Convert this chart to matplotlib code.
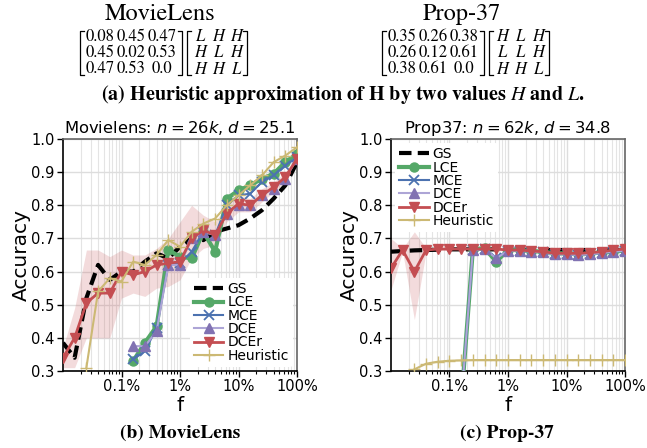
import numpy as np
import matplotlib
matplotlib.use('Agg')
import matplotlib.pyplot as plt
from matplotlib.ticker import FixedLocator, LogLocator, NullFormatter, FixedFormatter
from matplotlib.lines import Line2D

nan = np.nan

# fraction of labeled nodes (5 points per decade)
f = [0.0001, 0.000158, 0.000251, 0.000398, 0.000631,
     0.001, 0.00158, 0.00251, 0.00398, 0.00631,
     0.01, 0.0158, 0.0251, 0.0398, 0.0631,
     0.1, 0.158, 0.251, 0.398, 0.631, 1.0]

# MovieLens accuracies
gs_ml = [0.385, 0.34, 0.52, 0.62, 0.575, 0.60, 0.60, 0.63, 0.655, 0.64, 0.675,
         0.70, 0.695, 0.72, 0.73, 0.74, 0.76, 0.785, 0.82, 0.86, 0.93]
lce_ml = [nan, nan, nan, nan, nan, nan, 0.33, 0.385, 0.435, 0.665, 0.645,
          0.64, 0.72, 0.66, 0.82, 0.845, 0.86, 0.88, 0.895, 0.93, 0.955]
mce_ml = [nan, nan, nan, nan, nan, nan, 0.335, 0.36, 0.43, 0.62, 0.625,
          0.66, 0.72, 0.71, 0.80, 0.83, 0.835, 0.87, 0.89, 0.92, 0.945]
dce_ml = [nan, nan, nan, nan, nan, nan, 0.375, 0.375, 0.42, 0.62, 0.62,
          0.70, 0.72, 0.71, 0.775, 0.80, 0.80, 0.83, 0.85, 0.88, 0.94]
dcer_ml = [0.34, 0.40, 0.505, 0.535, 0.535, 0.60, 0.59, 0.60, 0.62, 0.625, 0.63,
           0.70, 0.725, 0.71, 0.775, 0.805, 0.80, 0.83, 0.855, 0.885, 0.94]
dcer_ml_lo = [0.31, 0.31, 0.40, 0.40, 0.40, 0.52, 0.535, 0.525, 0.55, 0.555, 0.575,
              0.64, 0.67, 0.68, 0.75, 0.78, 0.78, 0.81, 0.84, 0.87, 0.93]
dcer_ml_hi = [0.37, 0.49, 0.665, 0.665, 0.645, 0.665, 0.65, 0.65, 0.67, 0.70, 0.75,
              0.80, 0.77, 0.75, 0.80, 0.83, 0.82, 0.85, 0.87, 0.90, 0.95]
heur_ml = [nan, nan, 0.31, 0.54, 0.58, 0.57, 0.63, 0.62, 0.65, 0.695, 0.675,
           0.72, 0.745, 0.76, 0.80, 0.83, 0.86, 0.89, 0.93, 0.95, 0.975]

# Prop-37 accuracies
gs_p = [0.66, 0.662, 0.664, 0.665, 0.666, 0.667, 0.667, 0.667, 0.667, 0.667, 0.666,
        0.666, 0.665, 0.665, 0.665, 0.665, 0.665, 0.665, 0.665, 0.665, 0.665]
lce_p = [0.2, 0.2, 0.2, 0.2, 0.2, 0.2, 0.2, 0.668, 0.67, 0.63, 0.665,
         0.665, 0.662, 0.66, 0.655, 0.655, 0.652, 0.655, 0.658, 0.66, 0.665]
mce_p = [0.2, 0.2, 0.2, 0.2, 0.2, 0.2, 0.2, 0.665, 0.668, 0.64, 0.663,
         0.663, 0.66, 0.658, 0.653, 0.653, 0.65, 0.653, 0.656, 0.66, 0.663]
dce_p = [0.2, 0.2, 0.2, 0.2, 0.2, 0.2, 0.2, 0.665, 0.668, 0.64, 0.663,
         0.663, 0.66, 0.658, 0.652, 0.652, 0.65, 0.652, 0.656, 0.66, 0.663]
dcer_p = [0.61, 0.665, 0.60, 0.665, 0.668, 0.668, 0.668, 0.668, 0.668, 0.668, 0.665,
          0.665, 0.662, 0.66, 0.655, 0.655, 0.655, 0.657, 0.66, 0.665, 0.668]
dcer_p_lo = [0.545, 0.66, 0.455, 0.66, 0.664, 0.664, 0.664, 0.664, 0.664, 0.664, 0.661,
             0.661, 0.658, 0.656, 0.651, 0.651, 0.651, 0.653, 0.656, 0.661, 0.664]
dcer_p_hi = [0.70, 0.67, 0.72, 0.67, 0.672, 0.672, 0.672, 0.672, 0.672, 0.672, 0.669,
             0.669, 0.666, 0.664, 0.659, 0.659, 0.659, 0.661, 0.664, 0.669, 0.672]
heur_p = [nan, nan, 0.305, 0.322, 0.328, 0.331, 0.332, 0.333, 0.333, 0.333, 0.333,
          0.333, 0.333, 0.333, 0.333, 0.333, 0.333, 0.333, 0.333, 0.333, 0.333]

xtick_pos = [0.001, 0.01, 0.1, 1.0]
xtick_lab = ['0.1%', '1%', '10%', '100%']

W, H = 647, 448
plt.rcParams['mathtext.fontset'] = 'stix'
fig = plt.figure(figsize=(W / 100, H / 100), dpi=100)


def fx(x):
    return x / W


def fy(y):
    return 1 - y / H


def draw_panel(ax, title, gs, lce, mce, dce, dcer, lo, hi, heur, legend_loc):
    ax.fill_between(f, lo, hi, color='#C44E52', alpha=0.2, lw=0)
    ax.plot(f, gs, color='black', lw=3, ls=(0, (3, 1.5)), label='GS', zorder=3)
    ax.plot(f, lce, color='#55A868', lw=3, marker='o', ms=6.5, label='LCE', zorder=4)
    ax.plot(f, mce, color='#4C72B0', lw=1.5, marker='x', ms=6.5, mew=1.3, label='MCE', zorder=5)
    ax.plot(f, dce, color='#ADA5D6', lw=1.5, marker='^', ms=6.5, mfc='#8172B2', mec='#8172B2',
            label='DCE', zorder=5)
    ax.plot(f, dcer, color='#C44E52', lw=2, marker='v', ms=7, label='DCEr', zorder=6)
    ax.plot(f, heur, color='#CCB974', lw=1.5, marker='+', ms=8, mew=1, label='Heuristic', zorder=7)

    ax.set_xscale('log')
    ax.set_xlim(1e-4, 1.0)
    ax.set_ylim(0.3, 1.0)
    ax.xaxis.set_major_locator(FixedLocator(xtick_pos))
    ax.xaxis.set_major_formatter(FixedFormatter(xtick_lab))
    ax.xaxis.set_minor_locator(LogLocator(base=10, subs=np.arange(2, 10)))
    ax.xaxis.set_minor_formatter(NullFormatter())
    ax.set_yticks([0.3, 0.4, 0.5, 0.6, 0.7, 0.8, 0.9, 1.0])
    ax.tick_params(axis='both', which='major', labelsize=10.5, length=4, width=1, pad=2)
    ax.tick_params(axis='x', which='minor', length=2.5, width=0.8)
    ax.grid(True, which='major', color='#dddddd', lw=1)
    ax.grid(True, which='minor', axis='x', color='#e4e4e4', lw=0.8)
    ax.set_axisbelow(True)
    for s in ['left', 'bottom']:
        ax.spines[s].set_color('black')
        ax.spines[s].set_linewidth(1.2)
    for s in ['top', 'right']:
        ax.spines[s].set_color('#666666')
        ax.spines[s].set_linewidth(1.2)
    ax.set_title(title, fontsize=11.8, pad=4, family='DejaVu Sans', math_fontfamily='dejavusans')
    ax.set_ylabel('Accuracy', fontsize=14.5, labelpad=0.5)
    ax.set_xlabel('f', fontsize=14.5, labelpad=1)
    ax.legend(loc=legend_loc, fontsize=10, frameon=True, facecolor='white', edgecolor='none',
              framealpha=1, handlelength=2.1, labelspacing=-0.05, borderpad=0.3,
              borderaxespad=0.3, handletextpad=0.3)


ax1 = fig.add_axes([fx(63), fy(371), fx(234), 232 / H])
draw_panel(ax1, 'Movielens: $n = 26k$, $d = 25.1$',
           gs_ml, lce_ml, mce_ml, dce_ml, dcer_ml, dcer_ml_lo, dcer_ml_hi, heur_ml, 'lower right')
ax2 = fig.add_axes([fx(391), fy(371), fx(234), 232 / H])
draw_panel(ax2, 'Prop37: $n = 62k$, $d = 34.8$',
           gs_p, lce_p, mce_p, dce_p, dcer_p, dcer_p_lo, dcer_p_hi, heur_p, 'upper left')

# ---- top part (a): heuristic matrices ----
ml_num = [['0.08', '0.45', '0.47'], ['0.45', '0.02', '0.53'], ['0.47', '0.53', '0.0']]
ml_let = [['L', 'H', 'H'], ['H', 'L', 'H'], ['H', 'H', 'L']]
p_num = [['0.35', '0.26', '0.38'], ['0.26', '0.12', '0.61'], ['0.38', '0.61', '0.0']]
p_let = [['H', 'L', 'H'], ['L', 'L', 'H'], ['H', 'H', 'L']]

serif = 'STIXGeneral'


def bracket(x0, x1, y0, y1):
    for x, d in ((x0, 4), (x1, -4)):
        fig.add_artist(Line2D([fx(x + d), fx(x), fx(x), fx(x + d)], [fy(y0), fy(y0), fy(y1), fy(y1)],
                              transform=fig.transFigure, color='black', lw=0.9))


def matrix_group(c, name, num, let):
    fig.text(fx(c), fy(14), name, family=serif, fontsize=17.5, ha='center', va='center')
    L0 = c - 80
    num_cols = [L0 + 20, L0 + 51, L0 + 82]
    let_cols = [L0 + 120, L0 + 138, L0 + 156]
    # one multi-line text per matrix column
    for j in range(3):
        fig.text(fx(num_cols[j]), fy(53), '\n'.join(num[r][j] for r in range(3)), family=serif,
                 fontsize=12, ha='center', va='center', linespacing=1.0, multialignment='center')
        fig.text(fx(let_cols[j]), fy(53), '\n'.join(let[r][j] for r in range(3)), family=serif,
                 style='italic', fontsize=12, ha='center', va='center', linespacing=1.0,
                 multialignment='center')
    bracket(L0, L0 + 102, 31, 75)
    bracket(L0 + 107, L0 + 167, 31, 75)


matrix_group(160, 'MovieLens', ml_num, ml_let)
matrix_group(462, 'Prop-37', p_num, p_let)

fig.text(fx(343), fy(95), '(a) Heuristic approximation of H by two values $H$ and $L$.',
         family=serif, fontweight='bold', fontsize=14.5, ha='center', va='center')
fig.text(fx(180), fy(433), '(b) MovieLens', family=serif, fontweight='bold', fontsize=14,
         ha='center', va='center')
fig.text(fx(507), fy(433), '(c) Prop-37', family=serif, fontweight='bold', fontsize=14,
         ha='center', va='center')

fig.savefig('out.png', dpi=100)
